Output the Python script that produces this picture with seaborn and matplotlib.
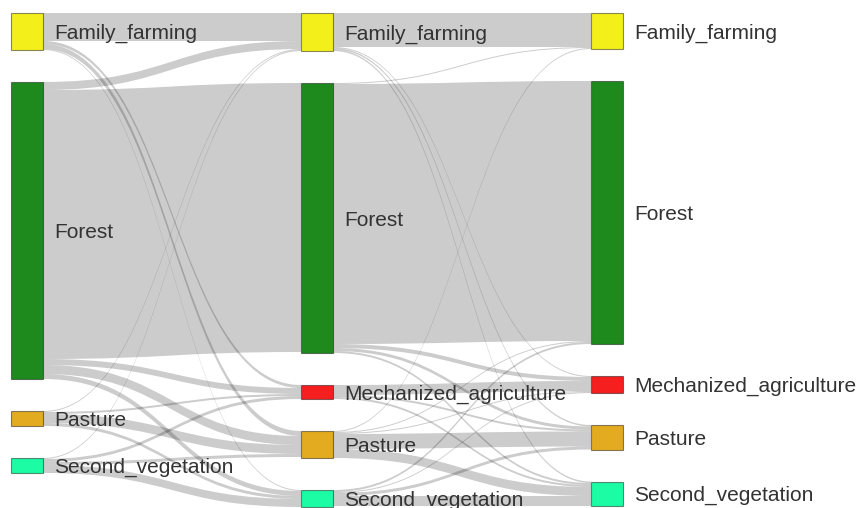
import numpy as np
import matplotlib.pyplot as plt
from matplotlib.path import Path
from matplotlib.patches import PathPatch, Rectangle
import seaborn as sns

# land use classes (same order top -> bottom in every column)
classes = ['Family_farming', 'Forest', 'Mechanized_agriculture', 'Pasture', 'Second_vegetation']
class_colors = ['#f2ef1b', '#1e8a1e', '#f51f1f', '#e3ab1f', '#1bfca4']

# transitions, rows = source class, columns = target class
flows_1_2 = [
    [28, 0, 3, 5, 1],
    [8, 269, 6, 9, 5],
    [0, 0, 0, 0, 0],
    [1, 0, 2, 9, 3],
    [1, 0, 3, 3, 8],
]
flows_2_3 = [
    [34, 0, 1, 1.5, 1.5],
    [1, 260, 4, 3, 2],
    [0, 0, 10, 2, 2],
    [1, 1, 1, 15, 9],
    [0, 2, 1, 3, 10],
]

sns.set_theme(style='white')
plt.rcParams['font.family'] = ['Liberation Sans', 'DejaVu Sans']
palette = sns.color_palette(class_colors)

# layout (pixels)
col_x = [11, 301, 591]
node_w = 32
top = 13
pad = 32
ky = 1.0  # pixels per unit

stages = [np.array(flows_1_2, float), np.array(flows_2_3, float)]
n_cols = len(stages) + 1

# node sizes per column
col_vals = []
for c in range(n_cols):
    inflow = stages[c - 1].sum(axis=0) if c > 0 else np.zeros(len(classes))
    outflow = stages[c].sum(axis=1) if c < len(stages) else np.zeros(len(classes))
    col_vals.append(np.maximum(inflow, outflow))

# node y positions, stacked from the top
node_y = []
for c in range(n_cols):
    ys = {}
    y = top
    for k, v in enumerate(col_vals[c]):
        if v <= 0:
            continue
        ys[k] = (y, y + v * ky)
        y += v * ky + pad
    node_y.append(ys)

fig = plt.figure(figsize=(8.61, 5.08), dpi=100)
ax = fig.add_axes([0, 0, 1, 1])
ax.set_xlim(0, 861)
ax.set_ylim(508, 0)
ax.axis('off')


def band(x0, x1, y0a, y0b, y1a, y1b):
    xm = (x0 + x1) / 2
    verts = [(x0, y0a), (xm, y0a), (xm, y1a), (x1, y1a),
             (x1, y1b), (xm, y1b), (xm, y0b), (x0, y0b), (x0, y0a)]
    codes = [Path.MOVETO, Path.CURVE4, Path.CURVE4, Path.CURVE4,
             Path.LINETO, Path.CURVE4, Path.CURVE4, Path.CURVE4, Path.CLOSEPOLY]
    return PathPatch(Path(verts, codes), facecolor=(0, 0, 0, 0.2), edgecolor='none')


# links
for s, M in enumerate(stages):
    x0 = col_x[s] + node_w
    x1 = col_x[s + 1]
    out_off = {i: node_y[s][i][0] for i in node_y[s]}
    in_off = {j: node_y[s + 1][j][0] for j in node_y[s + 1]}
    src_pos = {}
    for i in range(len(classes)):
        for j in range(len(classes)):
            v = M[i, j]
            if v <= 0:
                continue
            src_pos[(i, j)] = (out_off[i], out_off[i] + v * ky)
            out_off[i] += v * ky
    for j in range(len(classes)):
        for i in range(len(classes)):
            v = M[i, j]
            if v <= 0:
                continue
            a, b = src_pos[(i, j)]
            ax.add_patch(band(x0, x1, a, b, in_off[j], in_off[j] + v * ky))
            in_off[j] += v * ky

# nodes and labels
for c in range(n_cols):
    for k, (y0, y1) in node_y[c].items():
        ax.add_patch(Rectangle((col_x[c], y0), node_w, y1 - y0,
                               facecolor=palette[k], edgecolor=(0, 0, 0, 0.45),
                               linewidth=0.8))
        ax.text(col_x[c] + node_w + 11, (y0 + y1) / 2 + 2, classes[k],
                fontsize=15, color='#333333', va='center', ha='left',
                clip_on=True)

fig.savefig('out.png', dpi=100)
